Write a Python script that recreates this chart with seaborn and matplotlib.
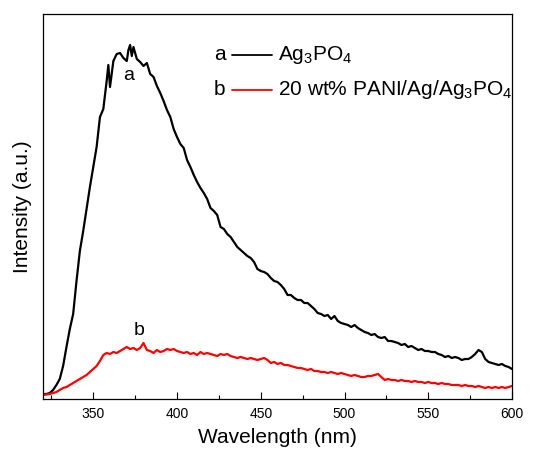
import numpy as np
import pandas as pd
import matplotlib
matplotlib.use("Agg")
import matplotlib.pyplot as plt
import seaborn as sns
from matplotlib.ticker import MultipleLocator, NullLocator

# Wavelength grid (nm) and intensities (a.u.)
wl_a = [320, 322, 324, 326, 328, 330, 332, 334, 336, 338, 340, 342, 344, 346, 348,
        350, 352, 354, 356, 358, 359, 360, 362, 364, 366, 368, 370, 371, 372, 373,
        374, 376, 378, 380, 382, 384, 386, 388, 390, 392, 394, 396, 398, 400, 402,
        404, 406, 408, 410, 412, 414, 416, 418, 420, 422, 424, 426, 428, 430, 432,
        434, 436, 438, 440, 442, 444, 446, 448, 450, 452, 454, 456, 458, 460, 462,
        464, 466, 468, 470, 472, 474, 476, 478, 480, 482, 484, 486, 488, 490, 492,
        494, 496, 498, 500, 502, 504, 506, 508, 510, 512, 514, 516, 518, 520, 522,
        524, 526, 528, 530, 532, 534, 536, 538, 540, 542, 544, 546, 548, 550, 552,
        554, 556, 558, 560, 562, 564, 566, 568, 570, 572, 574, 576, 578, 580, 582,
        584, 586, 588, 590, 592, 594, 596, 598, 600]
int_a = [5, 5, 6, 9, 14, 20, 33, 52, 70, 85, 118, 148, 168, 190, 212,
         232, 252, 282, 290, 318, 334, 312, 338, 345, 346, 341, 338, 349, 354, 343,
         352, 340, 337, 333, 336, 325, 322, 313, 306, 298, 289, 282, 270, 262, 255,
         251, 239, 232, 224, 217, 211, 206, 200, 191, 188, 184, 172, 170, 165, 162,
         157, 152, 149, 146, 143, 141, 137, 130, 128, 127, 125, 121, 118, 117, 114,
         110, 104, 104, 101, 99, 99, 96, 96, 93, 90, 86, 85, 83, 84, 80,
         83, 78, 76, 75, 74, 72, 74, 71, 69, 67, 66, 64, 65, 62, 61,
         62, 58, 58, 57, 56, 54, 55, 52, 53, 51, 49, 50, 48, 48, 47,
         47, 45, 44, 42, 43, 41, 42, 41, 39, 40, 40, 42, 45, 49, 47,
         40, 37, 36, 35, 34, 35, 33, 32, 30]

wl_b = list(range(320, 601, 2))
int_b = [4, 4.5, 5, 6, 7, 9, 11, 12, 14, 16, 18, 20, 22, 24, 27,
         30, 33, 38, 44, 46, 45, 47, 46, 48, 50, 52, 50, 51, 49, 51,
         56, 49, 48, 46, 49, 47, 48, 50, 49, 50, 48, 47, 46, 47, 45,
         46, 44, 47, 45, 46, 45, 44, 43, 45, 44, 45, 43, 42, 41, 42,
         41, 40, 41, 40, 39, 40, 41, 39, 36, 37, 35, 36, 34, 34, 33,
         32, 31, 31, 30, 29, 30, 28, 28, 27, 27, 26, 27, 26, 25, 26,
         25, 24, 23, 24, 23, 22, 22, 23, 23, 24, 25, 22, 19, 20, 19,
         19, 18, 19, 18, 18, 17, 18, 17, 17, 16, 17, 16, 16, 15, 16,
         15, 15, 14, 14, 14, 13, 14, 13, 13, 12, 13, 12, 11, 12, 11,
         12, 11, 12, 11, 12, 13]

legend_labels = [r"Ag$_3$PO$_4$", r"20 wt% PANI/Ag/Ag$_3$PO$_4$"]
legend_tags = ["a", "b"]
series_colors = ["black", "red"]

sns.set_style("white")
plt.rcParams["font.family"] = ["Liberation Sans", "DejaVu Sans"]
plt.rcParams["mathtext.fontset"] = "custom"
plt.rcParams["mathtext.rm"] = "Liberation Sans"
plt.rcParams["mathtext.it"] = "Liberation Sans"
plt.rcParams["text.color"] = "black"
plt.rcParams["axes.labelcolor"] = "black"
plt.rcParams["xtick.color"] = "black"
plt.rcParams["ytick.color"] = "black"

df_a = pd.DataFrame({"wl": wl_a, "I": int_a})
df_b = pd.DataFrame({"wl": wl_b, "I": int_b})

fig = plt.figure(figsize=(5.33, 4.53), dpi=100)
ax = fig.add_axes([0.0807, 0.1192, 0.8799, 0.8499])

sns.lineplot(data=df_a, x="wl", y="I", ax=ax, color=series_colors[0], lw=1.6)
sns.lineplot(data=df_b, x="wl", y="I", ax=ax, color=series_colors[1], lw=1.6)

ax.set_xlim(320, 600)
ax.set_ylim(0, 385)
ax.xaxis.set_major_locator(MultipleLocator(50))
ax.xaxis.set_minor_locator(MultipleLocator(25))
ax.yaxis.set_major_locator(NullLocator())
ax.tick_params(axis="x", which="major", direction="in", length=5, width=0.8,
               labelsize=10, pad=6, bottom=True, top=False, colors="black")
ax.tick_params(axis="x", which="minor", direction="in", length=3, width=0.8,
               bottom=True, top=False)
for s in ax.spines.values():
    s.set_color("black")
    s.set_linewidth(0.9)

ax.set_xlabel("Wavelength (nm)", fontsize=15, labelpad=5)
ax.set_ylabel("Intensity (a.u.)", fontsize=15, labelpad=8)

# curve tags
ax.text(371, 323, "a", fontsize=14, ha="center", va="center")
ax.text(377.5, 69, "b", fontsize=14, ha="center", va="center")

# legend drawn manually: tag, line, label
rows_y = [0.894, 0.803]
for tag, lab, col, yy in zip(legend_tags, legend_labels, series_colors, rows_y):
    ax.text(0.377, yy, tag, transform=ax.transAxes, fontsize=15, ha="center", va="center")
    ax.plot([0.403, 0.488], [yy, yy], transform=ax.transAxes, color=col, lw=1.3)
    ax.text(0.501, yy, lab, transform=ax.transAxes, fontsize=15, ha="left", va="center")

fig.savefig("out.png", dpi=100)
